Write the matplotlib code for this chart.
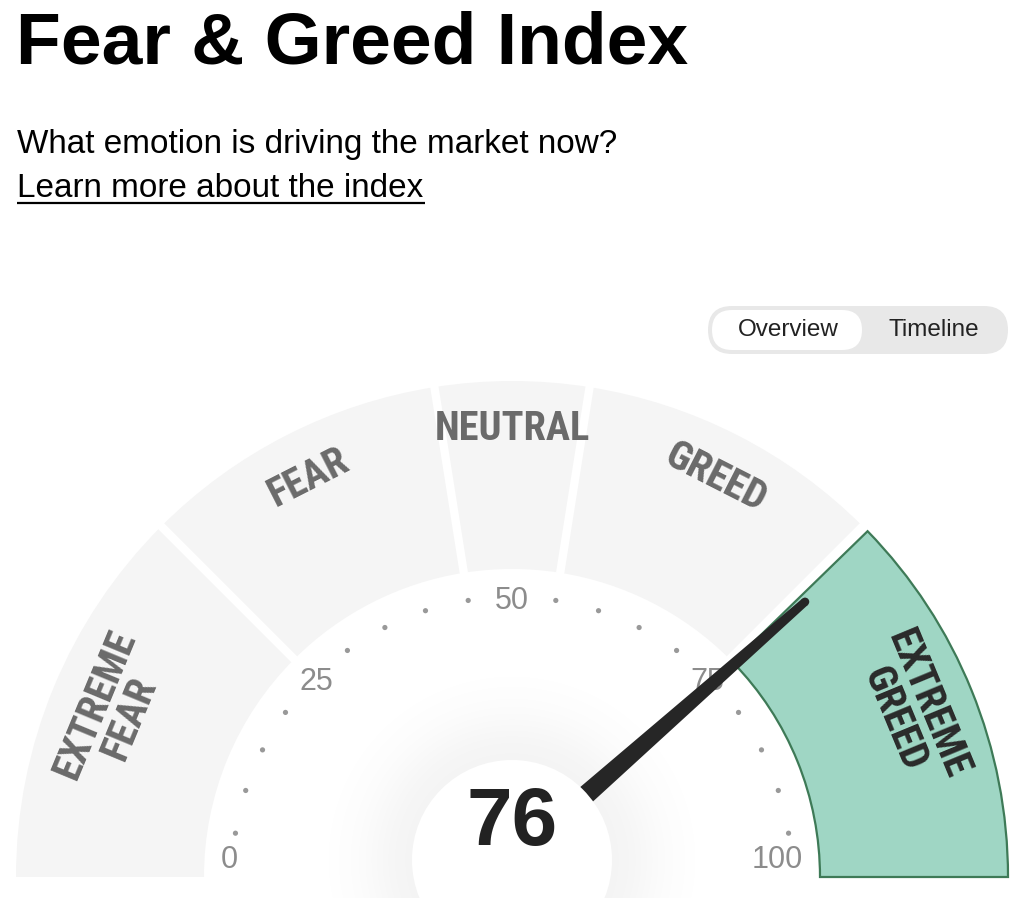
import numpy as np
import matplotlib
matplotlib.use("Agg")
import matplotlib.pyplot as plt
from matplotlib.patches import Wedge, Circle, FancyBboxPatch, Polygon
from matplotlib import font_manager as fm

# ---------------- data ----------------
title = "Fear & Greed Index"
subtitle = "What emotion is driving the market now?"
link_text = "Learn more about the index"
toggle_labels = ["Overview", "Timeline"]
zone_names = ["EXTREME\nFEAR", "FEAR", "NEUTRAL", "GREED", "EXTREME\nGREED"]
zone_bounds = [0, 25, 45, 55, 75, 100]
tick_values = [0, 25, 50, 75, 100]
tick_labels = ["0", "25", "50", "75", "100"]
minor_step = 5
current_value = 76

# ---------------- figure ----------------
W, H = 1018, 898
fig = plt.figure(figsize=(W / 100, H / 100), dpi=100)
ax = fig.add_axes([0, 0, 1, 1])
ax.set_xlim(0, W)
ax.set_ylim(H, 0)
ax.set_aspect("equal")
ax.axis("off")
renderer = fig.canvas.get_renderer()

SANS = ["Liberation Sans", "DejaVu Sans"]


def _is_bold(w):
    if isinstance(w, str):
        return w.lower() in ("bold", "heavy", "black", "extra bold", "semibold", "demibold")
    return w >= 600


def pick_condensed():
    best = None
    for f in fm.fontManager.ttflist:
        nm = (f.name + " " + f.fname).lower()
        if ("condensed" in nm or "narrow" in nm or f.stretch in ("condensed", "semi-condensed")) \
                and _is_bold(f.weight) and "italic" not in nm and "oblique" not in nm \
                and "extra" not in nm.split("/")[-1] and "semi" not in nm.split("/")[-1]:
            if "roboto" in nm: score = 5
            elif "open" in nm: score = 4
            elif "noto" in nm: score = 3
            elif "liberation" in nm: score = 3
            elif "dejavu" in nm: score = 2
            else: score = 1
            if best is None or score > best[0]:
                best = (score, f.fname)
    if best:
        return fm.FontProperties(fname=best[1])
    return fm.FontProperties(family="DejaVu Sans", weight="bold", stretch="condensed")


COND = pick_condensed()


def fit_size(text, target_px, **kw):
    t = ax.text(0, 0, text, fontsize=10, **kw)
    w = t.get_window_extent(renderer=renderer).width
    t.remove()
    return 10.0 * target_px / w


# ---------------- header ----------------
ts = fit_size(title, 676, family=SANS, weight="bold")
ax.text(16, 63, title, fontsize=ts, family=SANS, weight="bold", color="black",
        ha="left", va="baseline")
ss = fit_size(subtitle, 604, family=SANS)
ax.text(17, 153, subtitle, fontsize=ss, family=SANS, color="black", ha="left", va="baseline")
ls = fit_size(link_text, 408, family=SANS)
ax.text(17, 197, link_text, fontsize=ls, family=SANS, color="black", ha="left", va="baseline")
ax.plot([17, 425], [203, 203], color="black", lw=1.6, solid_capstyle="butt")

# ---------------- toggle ----------------
ax.add_patch(FancyBboxPatch((708, 306), 300, 48, boxstyle="round,pad=0,rounding_size=24",
                            fc="#e8e8e8", ec="none", zorder=2))
ax.add_patch(FancyBboxPatch((712, 310), 150, 40, boxstyle="round,pad=0,rounding_size=20",
                            fc="white", ec="none", zorder=3))
ax.text(788, 330, toggle_labels[0], fontsize=17.5, family=SANS, color="#222222",
        ha="center", va="center", zorder=4)
ax.text(934, 330, toggle_labels[1], fontsize=17.5, family=SANS, color="#222222",
        ha="center", va="center", zorder=4)

# ---------------- gauge ----------------
CX, CY = 512, 877
R_OUT, R_IN = 496, 308
PIVOT = (512, 860)


def ang(v):
    return np.deg2rad(180 - 1.8 * v)


def pol(v, r, c=(CX, CY)):
    a = ang(v)
    return c[0] + r * np.cos(a), c[1] - r * np.sin(a)


def dang(v):  # data-space angle (y axis inverted)
    return 1.8 * v - 180


last = len(zone_names) - 1
for i in range(last):
    v0, v1 = zone_bounds[i], zone_bounds[i + 1]
    ax.add_patch(Wedge((CX, CY), R_OUT, dang(v0), dang(v1), width=R_OUT - R_IN,
                       fc="#f5f5f5", ec="none", zorder=2))

# gaps between zones
for v in zone_bounds[1:-1]:
    x0, y0 = pol(v, R_IN - 2)
    x1, y1 = pol(v, R_OUT + 4)
    ax.plot([x0, x1], [y0, y1], color="white", lw=6.0, solid_capstyle="butt", zorder=3)

# active zone (extreme greed)
v0, v1 = zone_bounds[last], zone_bounds[last + 1]
ax.add_patch(Wedge((CX, CY), R_OUT, dang(v0) + 0.8, dang(v1), width=R_OUT - R_IN,
                   fc="#9fd6c4", ec="#3e7a57", lw=1.6, zorder=4))

# zone labels
lab_size = 1.08 * fit_size("NEUTRAL", 143, fontproperties=COND)
for i, name in enumerate(zone_names):
    v0, v1 = zone_bounds[i], zone_bounds[i + 1]
    vm = (v0 + v1) / 2
    two = "\n" in name
    r = 432 if two else 448
    x, y = pol(vm, r)
    rot = (180 - 1.8 * vm) - 90
    col = "#2a2a2a" if i == last else "#6a6a6a"
    ax.text(x, y, name, fontproperties=COND, fontsize=lab_size, color=col, rotation=rot,
            rotation_mode="anchor", ha="center", va="center", multialignment="center",
            linespacing=0.95, zorder=6)

# minor dots
dots = [v for v in range(0, 101, minor_step) if v not in tick_values]
for v in dots:
    x, y = pol(v, 280)
    ax.add_patch(Circle((x, y), 2.6, fc="#999999", ec="none", zorder=5))

# tick labels
for v, t in zip(tick_values, tick_labels):
    if v in (0, 100):
        x, _ = pol(v, 291)
        y = CY - 17
        ha = "left" if v == 0 else "right"
    else:
        x, y = pol(v, 276)
        ha = "center"
    ax.text(x, y, t, fontsize=22, family=SANS, color="#8c8c8c", ha=ha, va="center", zorder=6)

# glow around centre
gx0, gx1, gy0, gy1 = 282, 742, 630, 898
xs = np.arange(gx0, gx1) + 0.5
ys = np.arange(gy0, gy1) + 0.5
XX, YY = np.meshgrid(xs, ys)
RR = np.hypot(XX - PIVOT[0], YY - PIVOT[1])
alpha = np.where(RR > 96, 0.08 * np.exp(-((RR - 100) / 48.0) ** 2), 0.0)
img = np.zeros((len(ys), len(xs), 4))
img[..., :3] = 0.5
img[..., 3] = alpha
ax.imshow(img, extent=(gx0, gx1, gy1, gy0), origin="upper", interpolation="bilinear", zorder=1)
ax.set_xlim(0, W)
ax.set_ylim(H, 0)

# needle
tip = np.array(pol(current_value, 402))
base = np.array(PIVOT, dtype=float)
d = tip - base
d /= np.linalg.norm(d)
nrm = np.array([-d[1], d[0]])
hw_base, hw_tip = 11.5, 4.2
needle = [base + nrm * hw_base, tip + nrm * hw_tip, tip - nrm * hw_tip, base - nrm * hw_base]
ax.add_patch(Polygon(needle, closed=True, fc="#262626", ec="none", zorder=7))
ax.add_patch(Circle(tuple(tip), hw_tip, fc="#262626", ec="none", zorder=7))

# centre disc and value
ax.add_patch(Circle(PIVOT, 100, fc="white", ec="none", zorder=8))
ax.text(512, 824, str(current_value), fontsize=59, family=SANS, weight="bold",
        color="#222222", ha="center", va="center", zorder=9)

fig.savefig("out.png", dpi=100, facecolor="white")
